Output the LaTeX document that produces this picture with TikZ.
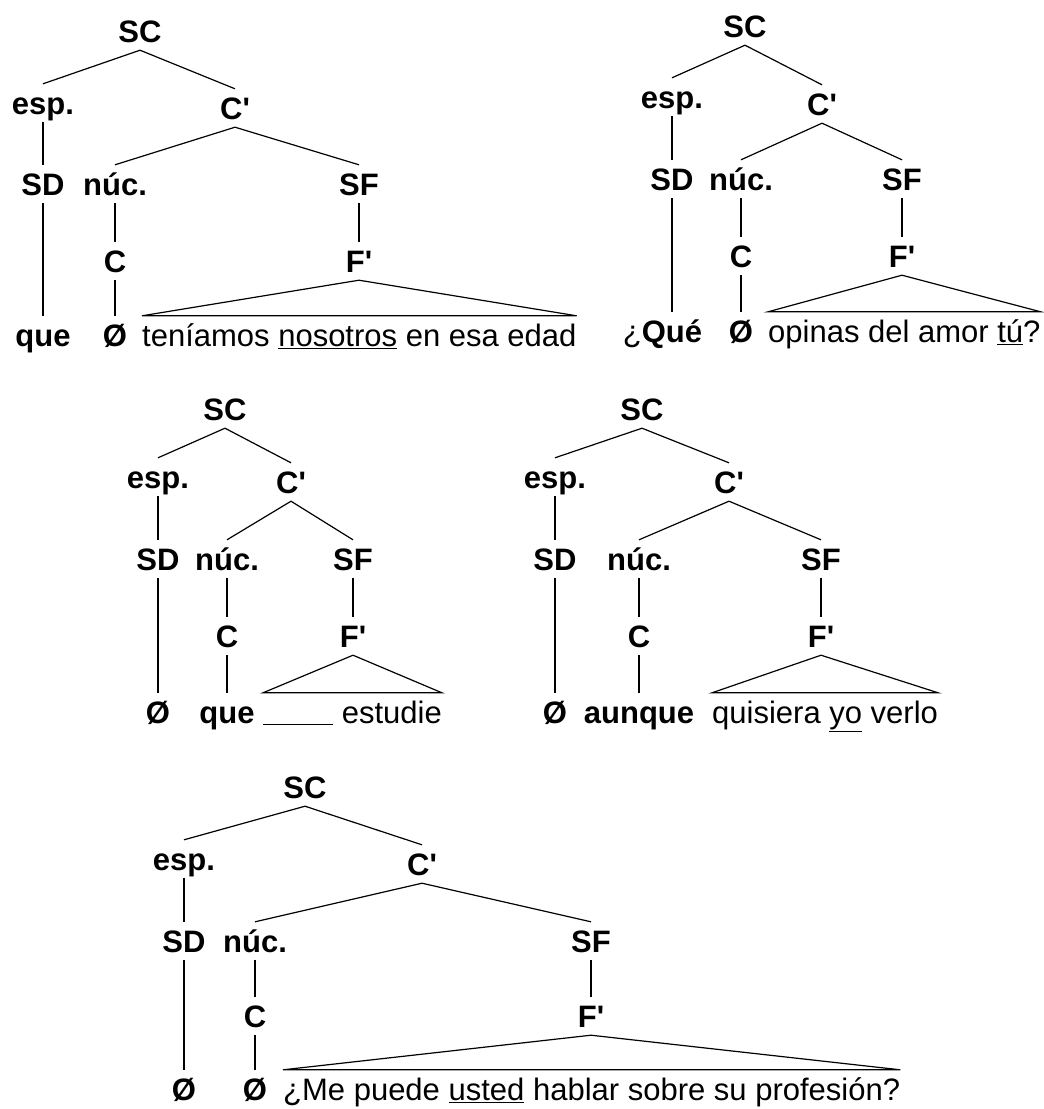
\documentclass[tikz,border=0pt]{standalone}
\usepackage{fontspec}
\setmainfont{Liberation Sans}
\usetikzlibrary{positioning}

\begin{document}
\begin{tikzpicture}[x=1pt,y=-1pt,
    lbl/.style={font=\fontsize{31}{36}\selectfont\bfseries, text height=26pt, text depth=4pt, inner sep=4pt, anchor=base},
    snt/.style={font=\fontsize{31}{36}\selectfont, text height=26pt, text depth=4pt, inner xsep=0pt, inner ysep=4pt, anchor=base west},
    br/.style={line width=1.2pt}]
  \useasboundingbox (0,0) rectangle (1044,1109);

  % que ... teniamos nosotros
  \node[lbl] (aSC)  at (140,42)  {SC};
  \node[lbl] (aesp) at (43,114)  {esp.};
  \node[lbl] (aCb)  at (235,119) {C\textquotesingle};
  \node[lbl] (aSD)  at (43,195)  {SD};
  \node[lbl] (anuc) at (115,195) {núc.};
  \node[lbl] (aSF)  at (359,195) {SF};
  \node[lbl] (aC)   at (115,272) {C};
  \node[lbl] (aFb)  at (359,272) {F\textquotesingle};
  \node[lbl] (aw1)  at (43,346)  {que};
  \node[lbl] (aw2)  at (115,346) {Ø};
  \node[snt] (as)   at (142,346) {teníamos \underline{nosotros} en esa edad};
  \draw[br] (aesp.north) -- (aSC.south) -- (aCb.north);
  \draw[br] (anuc.north) -- (aCb.south) -- (aSF.north);
  \draw[br] (aesp) -- (aSD) (aSD) -- (aw1) (anuc) -- (aC) (aC) -- (aw2) (aSF) -- (aFb);
  \draw[br] (aFb.south) -- (as.north west) -- (as.north east) -- cycle;

  % Que opinas
  \node[lbl] (bSC)  at (745,37)  {SC};
  \node[lbl] (besp) at (672,108) {esp.};
  \node[lbl] (bCb)  at (822,115) {C\textquotesingle};
  \node[lbl] (bSD)  at (672,190) {SD};
  \node[lbl] (bnuc) at (741,190) {núc.};
  \node[lbl] (bSF)  at (902,190) {SF};
  \node[lbl] (bC)   at (741,267) {C};
  \node[lbl] (bFb)  at (902,267) {F\textquotesingle};
  \node[lbl] (bw1)  at (672,342) {\llap{\mdseries ¿}Qué};
  \node[lbl] (bw2)  at (741,342) {Ø};
  \node[snt] (bs)   at (768,342) {opinas del amor \underline{tú}?};
  \draw[br] (besp.north) -- (bSC.south) -- (bCb.north);
  \draw[br] (bnuc.north) -- (bCb.south) -- (bSF.north);
  \draw[br] (besp) -- (bSD) (bSD) -- (bw1) (bnuc) -- (bC) (bC) -- (bw2) (bSF) -- (bFb);
  \draw[br] (bFb.south) -- (bs.north west) -- (bs.north east) -- cycle;

  % que ___ estudie
  \node[lbl] (cSC)  at (225,420) {SC};
  \node[lbl] (cesp) at (158,488) {esp.};
  \node[lbl] (cCb)  at (291,493) {C\textquotesingle};
  \node[lbl] (cSD)  at (158,570) {SD};
  \node[lbl] (cnuc) at (227,570) {núc.};
  \node[lbl] (cSF)  at (353,570) {SF};
  \node[lbl] (cC)   at (227,647) {C};
  \node[lbl] (cFb)  at (353,647) {F\textquotesingle};
  \node[lbl] (cw1)  at (158,723) {Ø};
  \node[lbl] (cw2)  at (227,723) {que};
  \node[snt] (cs)   at (263,723) {\underline{\hspace{70pt}} estudie};
  \draw[br] (cesp.north) -- (cSC.south) -- (cCb.north);
  \draw[br] (cnuc.north) -- (cCb.south) -- (cSF.north);
  \draw[br] (cesp) -- (cSD) (cSD) -- (cw1) (cnuc) -- (cC) (cC) -- (cw2) (cSF) -- (cFb);
  \draw[br] (cFb.south) -- (cs.north west) -- (cs.north east) -- cycle;

  % aunque quisiera yo verlo
  \node[lbl] (dSC)  at (642,420) {SC};
  \node[lbl] (desp) at (555,488) {esp.};
  \node[lbl] (dCb)  at (729,493) {C\textquotesingle};
  \node[lbl] (dSD)  at (555,570) {SD};
  \node[lbl] (dnuc) at (639,570) {núc.};
  \node[lbl] (dSF)  at (821,570) {SF};
  \node[lbl] (dC)   at (639,647) {C};
  \node[lbl] (dFb)  at (821,647) {F\textquotesingle};
  \node[lbl] (dw1)  at (555,723) {Ø};
  \node[lbl] (dw2)  at (639,723) {aunque};
  \node[snt] (ds)   at (712,723) {quisiera \underline{yo} verlo};
  \draw[br] (desp.north) -- (dSC.south) -- (dCb.north);
  \draw[br] (dnuc.north) -- (dCb.south) -- (dSF.north);
  \draw[br] (desp) -- (dSD) (dSD) -- (dw1) (dnuc) -- (dC) (dC) -- (dw2) (dSF) -- (dFb);
  \draw[br] (dFb.south) -- (ds.north west) -- (ds.north east) -- cycle;

  % Me puede usted hablar
  \node[lbl] (eSC)  at (305,798)  {SC};
  \node[lbl] (eesp) at (184,870)  {esp.};
  \node[lbl] (eCb)  at (422,875)  {C\textquotesingle};
  \node[lbl] (eSD)  at (184,952)  {SD};
  \node[lbl] (enuc) at (255,952)  {núc.};
  \node[lbl] (eSF)  at (591,952)  {SF};
  \node[lbl] (eC)   at (255,1027) {C};
  \node[lbl] (eFb)  at (591,1027) {F\textquotesingle};
  \node[lbl] (ew1)  at (184,1100) {Ø};
  \node[lbl] (ew2)  at (255,1100) {Ø};
  \node[snt] (es)   at (283,1100) {¿Me puede \underline{usted} hablar sobre su profesión?};
  \draw[br] (eesp.north) -- (eSC.south) -- (eCb.north);
  \draw[br] (enuc.north) -- (eCb.south) -- (eSF.north);
  \draw[br] (eesp) -- (eSD) (eSD) -- (ew1) (enuc) -- (eC) (eC) -- (ew2) (eSF) -- (eFb);
  \draw[br] (eFb.south) -- (es.north west) -- (es.north east) -- cycle;
\end{tikzpicture}
\end{document}
